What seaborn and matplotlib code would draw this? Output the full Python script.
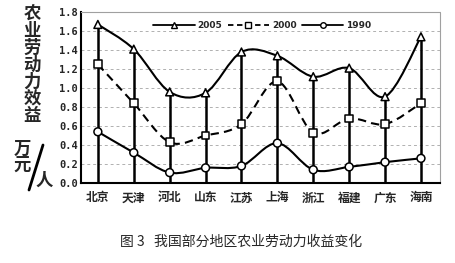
import matplotlib
matplotlib.use("Agg")
import matplotlib.pyplot as plt
import seaborn as sns
import numpy as np
import pandas as pd
from matplotlib.path import Path
from matplotlib.patches import PathPatch
from matplotlib.lines import Line2D

regions = ["北京", "天津", "河北", "山东", "江苏", "上海", "浙江", "福建", "广东", "海南"]
v2005 = [1.67, 1.41, 0.96, 0.95, 1.38, 1.34, 1.12, 1.21, 0.91, 1.54]
v2000 = [1.25, 0.84, 0.43, 0.50, 0.62, 1.07, 0.53, 0.68, 0.62, 0.84]
v1990 = [0.54, 0.32, 0.11, 0.16, 0.18, 0.42, 0.14, 0.17, 0.22, 0.26]
yticks = [0.0, 0.2, 0.4, 0.6, 0.8, 1.0, 1.2, 1.4, 1.6, 1.8]

sns.set_style("white")
plt.rcParams['font.family'] = ['Noto Sans CJK SC', 'DejaVu Sans']

fig = plt.figure(figsize=(4.55, 2.63), dpi=100)
ax = fig.add_axes([0.178, 0.304, 0.789, 0.650])

x = np.arange(len(regions))
df = pd.DataFrame({"x": np.tile(x, 3),
                   "v": v2005 + v2000 + v1990,
                   "year": ["2005"] * 10 + ["2000"] * 10 + ["1990"] * 10})

# grid
for t in yticks[1:-1]:
    ax.axhline(t, color="#b0b0b0", lw=0.7, ls=(0, (3, 3)), zorder=0)

# drop lines
ax.vlines(x, 0, v2005, color="black", lw=1.8, zorder=1)

def smooth(xs, ys, ls):
    pts = np.column_stack([xs, ys]).astype(float)
    ext = np.vstack([pts[0], pts, pts[-1]])
    verts = [tuple(pts[0])]
    codes = [Path.MOVETO]
    for i in range(len(pts) - 1):
        p0, p1, p2, p3 = ext[i], ext[i + 1], ext[i + 2], ext[i + 3]
        c1 = p1 + (p2 - p0) / 6
        c2 = p2 - (p3 - p1) / 6
        verts += [tuple(c1), tuple(c2), tuple(p2)]
        codes += [Path.CURVE4] * 3
    ax.add_patch(PathPatch(Path(verts, codes), fill=False, color="black",
                           lw=1.5, ls=ls, zorder=2))

smooth(x, v2005, "-")
smooth(x, v2000, (0, (4, 2.5)))
smooth(x, v1990, "-")

markers = {"2005": "^", "2000": "s", "1990": "o"}
sns.scatterplot(data=df, x="x", y="v", style="year", markers=markers,
                s=32, color="white", edgecolor="black", linewidth=1.1,
                legend=False, ax=ax, zorder=3)

# legend
handles = [Line2D([], [], color="black", lw=1.3, ls="-", marker="^", ms=4,
                  mfc="white", mec="black"),
           Line2D([], [], color="black", lw=1.3, ls=(0, (3, 2)), marker="s", ms=4,
                  mfc="white", mec="black"),
           Line2D([], [], color="black", lw=1.3, ls="-", marker="o", ms=4,
                  mfc="white", mec="black")]
leg = ax.legend(handles, ["2005", "2000", "1990"], ncol=3, frameon=False,
                loc="upper center", bbox_to_anchor=(0.505, 0.995),
                handlelength=4.6, handletextpad=0.3, columnspacing=0.6,
                prop={"family": "DejaVu Sans", "weight": "bold", "size": 6.5})

ax.set_xlim(-0.47, 9.53)
ax.set_ylim(0, 1.8)
ax.set_yticks(yticks)
ax.set_yticklabels([f"{t:.1f}" for t in yticks], family="DejaVu Sans Mono",
                   fontweight="bold", fontsize=7.5)
ax.set_xticks(x)
ax.set_xticklabels(regions, fontweight="bold", fontsize=8.5)
ax.tick_params(axis="x", length=0, pad=6)
ax.tick_params(axis="y", length=0, pad=2)
ax.set_xlabel("")
ax.set_ylabel("")

for s in ["left", "bottom"]:
    ax.spines[s].set_color("black")
    ax.spines[s].set_linewidth(1.5)
for s in ["top", "right"]:
    ax.spines[s].set_color("#a0a0a0")
    ax.spines[s].set_linewidth(0.8)
    ax.spines[s].set_linestyle((0, (1, 1)))

# y label
for i, ch in enumerate("农业劳动力效益"):
    fig.text(32 / 455, 1 - (14 + i * 17) / 263, ch, ha="center", va="center",
             fontsize=12.5, fontweight="bold")
fig.text(22 / 455, 1 - 149 / 263, "万", ha="center", va="center", fontsize=12.5, fontweight="bold")
fig.text(22 / 455, 1 - 166 / 263, "元", ha="center", va="center", fontsize=12.5, fontweight="bold")
fig.add_artist(Line2D([29 / 455, 43 / 455], [1 - 190 / 263, 1 - 145 / 263],
                      color="black", lw=2.0, transform=fig.transFigure))
fig.text(44 / 455, 1 - 181 / 263, "人", ha="center", va="center", fontsize=12.5, fontweight="bold")

fig.text(241 / 455, 1 - 242 / 263, "图 3   我国部分地区农业劳动力收益变化", ha="center",
         va="center", fontsize=10)

fig.savefig("out.png", dpi=100)
